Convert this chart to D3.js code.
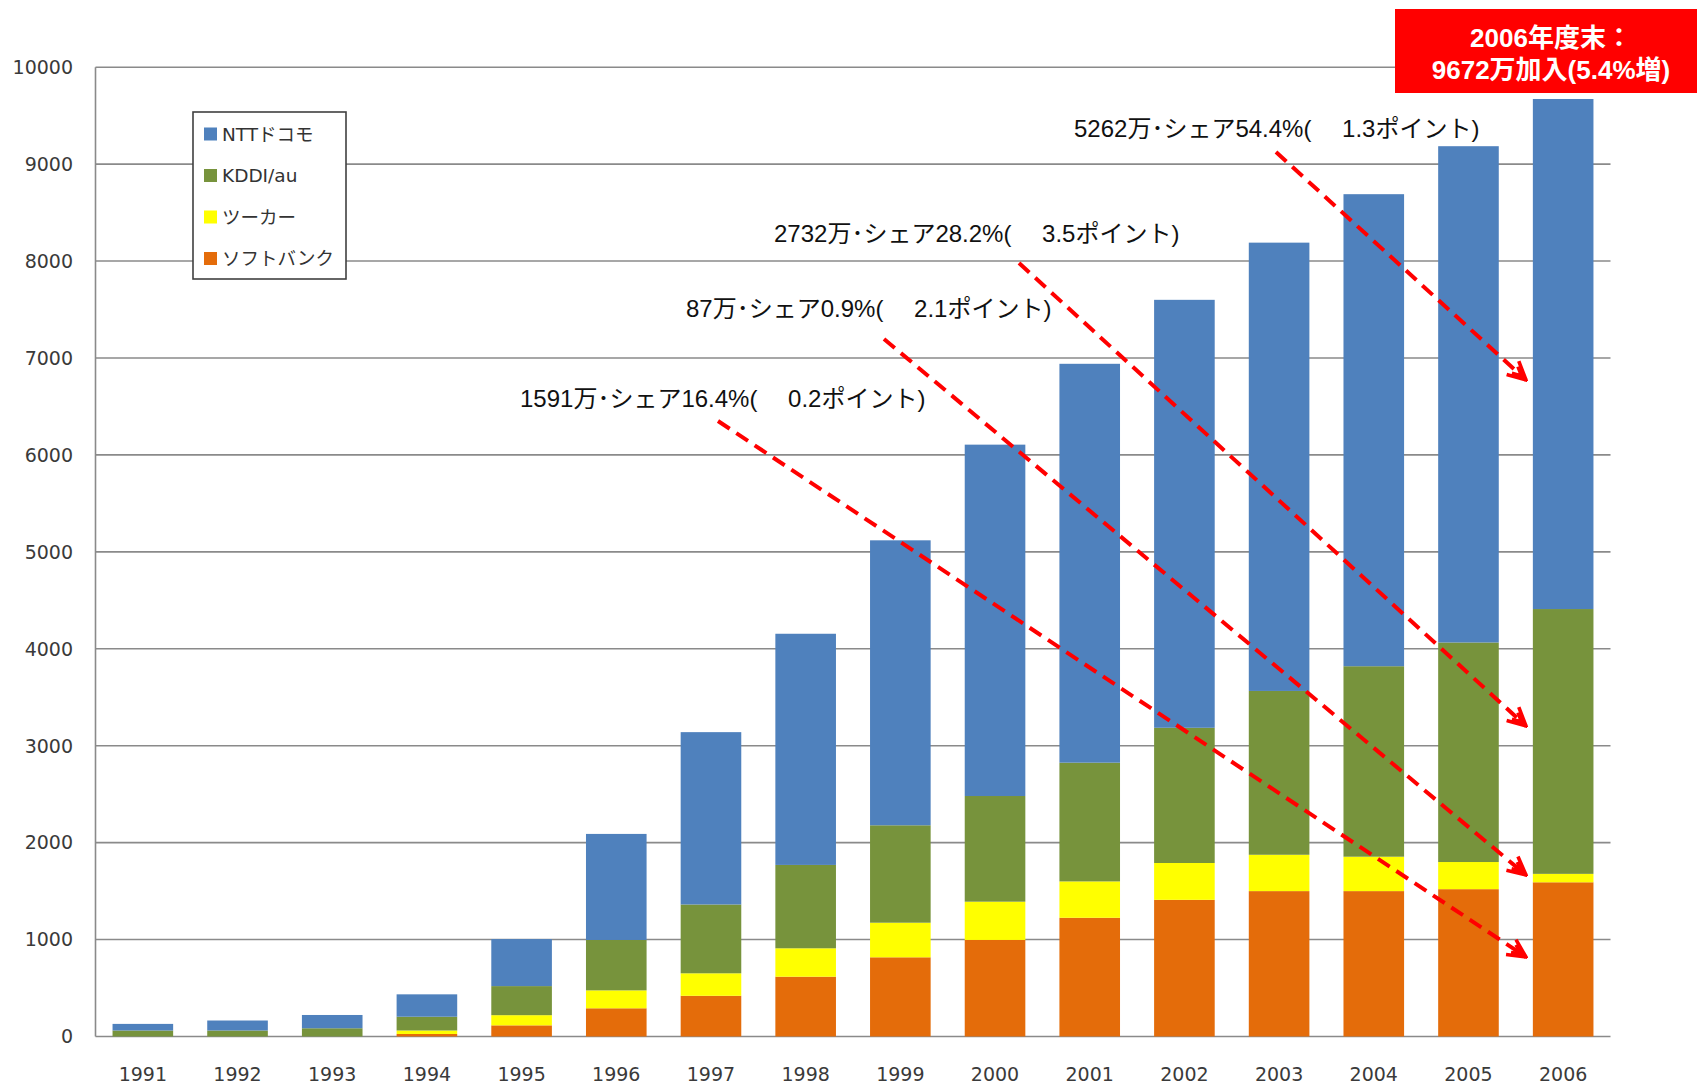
<!DOCTYPE html>
<html><head><meta charset="utf-8">
<script src="https://cdn.jsdelivr.net/npm/d3@7"></script>
<style>body{margin:0;background:#fff}svg{display:block}</style>
</head><body><svg id="c" width="1697" height="1086"></svg>
<script>
const years = ["1991","1992","1993","1994","1995","1996","1997","1998","1999","2000","2001","2002","2003","2004","2005","2006"];
const softbank = [0,0,0,26,115,291,420,617,817,996,1225,1410,1500,1500,1520,1591];
const tuka     = [0,0,0,36,105,185,232,293,357,395,375,380,375,355,280,87];
const kddi     = [62,62,85,142,300,520,710,860,1005,1090,1225,1395,1690,1965,2265,2732];
const docomo   = [68,103,137,231,485,1094,1778,2385,2940,3625,4115,4415,4625,4870,5120,5262];
const seriesNames = ["NTTドコモ","KDDI/au","ツーカー","ソフトバンク"];
const yTicks = [0,1000,2000,3000,4000,5000,6000,7000,8000,9000,10000];
const notes = [
  {text:"5262万\uFF65シェア54.4%(\u3000 1.3ポイント)", tx:1074, ty:128, x1:1276, y1:152, x2:1526, y2:380},
  {text:"2732万\uFF65シェア28.2%(\u3000 3.5ポイント)", tx:774, ty:233, x1:1019, y1:263, x2:1526, y2:726},
  {text:"87万\uFF65シェア0.9%(\u3000 2.1ポイント)", tx:686, ty:308, x1:884, y1:339, x2:1526, y2:875},
  {text:"1591万\uFF65シェア16.4%(\u3000 0.2ポイント)", tx:520, ty:398, x1:718, y1:421, x2:1526, y2:957}
];
const boxLines = ["2006年度末：","9672万加入(5.4%増)"];

const colors = {"ソフトバンク":"#e46c0a","ツーカー":"#ffff00","KDDI/au":"#77933c","NTTドコモ":"#4f81bd"};
const rows = years.map((y,i)=>({year:y,"ソフトバンク":softbank[i],"ツーカー":tuka[i],"KDDI/au":kddi[i],"NTTドコモ":docomo[i]}));
const stackKeys = ["ソフトバンク","ツーカー","KDDI/au","NTTドコモ"];
const stacked = d3.stack().keys(stackKeys)(rows);

const svg = d3.select("#c");
const L=95.5, R=1610.5, T=67.2, B=1036.5;
const x = d3.scaleBand().domain(years).range([L,R]).paddingInner(0.36).paddingOuter(0.18);
const y = d3.scaleLinear().domain([0,10000]).range([B,T]);

svg.append("g").selectAll("line").data(yTicks).join("line")
  .attr("x1",L).attr("x2",R).attr("y1",d=>y(d)).attr("y2",d=>y(d))
  .attr("stroke","#8a8a8a").attr("stroke-width",1.6);
svg.append("line").attr("x1",L).attr("x2",L).attr("y1",T).attr("y2",B)
  .attr("stroke","#8a8a8a").attr("stroke-width",1.6);

svg.append("g").selectAll("text").data(yTicks).join("text")
  .attr("x",73).attr("y",d=>y(d)).attr("dy","0.36em").attr("text-anchor","end")
  .attr("font-family","DejaVu Sans").attr("font-size",19).attr("fill","#3a3a3a")
  .text(d=>d);
svg.append("g").selectAll("text").data(years).join("text")
  .attr("x",d=>x(d)+x.bandwidth()/2).attr("y",1074).attr("dy","0.36em").attr("text-anchor","middle")
  .attr("font-family","DejaVu Sans").attr("font-size",19).attr("fill","#3a3a3a")
  .text(d=>d);

svg.append("g").selectAll("g").data(stacked).join("g")
  .attr("fill",s=>colors[s.key])
  .selectAll("rect").data(s=>s).join("rect")
  .attr("x",d=>x(d.data.year)).attr("width",x.bandwidth())
  .attr("y",d=>y(d[1])).attr("height",d=>Math.max(0,y(d[0])-y(d[1])));

const lg = svg.append("g");
lg.append("rect").attr("x",193).attr("y",112).attr("width",153).attr("height",167)
  .attr("fill","#fff").attr("stroke","#404040").attr("stroke-width",1.6);
seriesNames.forEach((n,i)=>{
  const cy = 134 + i*41.5;
  lg.append("rect").attr("x",204).attr("y",cy-6.5).attr("width",13).attr("height",13).attr("fill",colors[n]);
  lg.append("text").attr("x",222).attr("y",cy).attr("dy","0.36em")
    .attr("font-family","DejaVu Sans, Noto Sans CJK JP").attr("font-size",18.5).attr("fill","#333").text(n);
});

const defs = svg.append("defs");
defs.append("marker").attr("id","ah").attr("viewBox","0 0 22 22").attr("refX",20).attr("refY",11)
  .attr("markerWidth",22).attr("markerHeight",22).attr("markerUnits","userSpaceOnUse").attr("orient","auto")
  .append("path").attr("d","M2,2 L20,11 L2,20 M5,6.5 L14,11 L5,15.5").attr("fill","none").attr("stroke","#ff0000").attr("stroke-width",3.6);
svg.append("g").selectAll("line").data(notes).join("line")
  .attr("x1",d=>d.x1).attr("y1",d=>d.y1).attr("x2",d=>d.x2).attr("y2",d=>d.y2)
  .attr("stroke","#ff0000").attr("stroke-width",4).attr("stroke-dasharray","14,8")
  .attr("marker-end","url(#ah)");
svg.append("g").selectAll("text").data(notes).join("text")
  .attr("x",d=>d.tx).attr("y",d=>d.ty).attr("dy","0.36em")
  .attr("font-family","Liberation Sans, Noto Sans CJK JP").attr("font-size",24).attr("fill","#111")
  .text(d=>d.text);

svg.append("rect").attr("x",1395).attr("y",9).attr("width",302).attr("height",84).attr("fill","#ff0000");
svg.append("g").selectAll("text").data(boxLines).join("text")
  .attr("x",1551).attr("y",(d,i)=>i===0?38:70).attr("dy","0.36em").attr("text-anchor","middle")
  .attr("font-family","Liberation Sans, Noto Sans CJK JP").attr("font-weight","bold").attr("font-size",26)
  .attr("fill","#fff").text(d=>d);
</script></body></html>
